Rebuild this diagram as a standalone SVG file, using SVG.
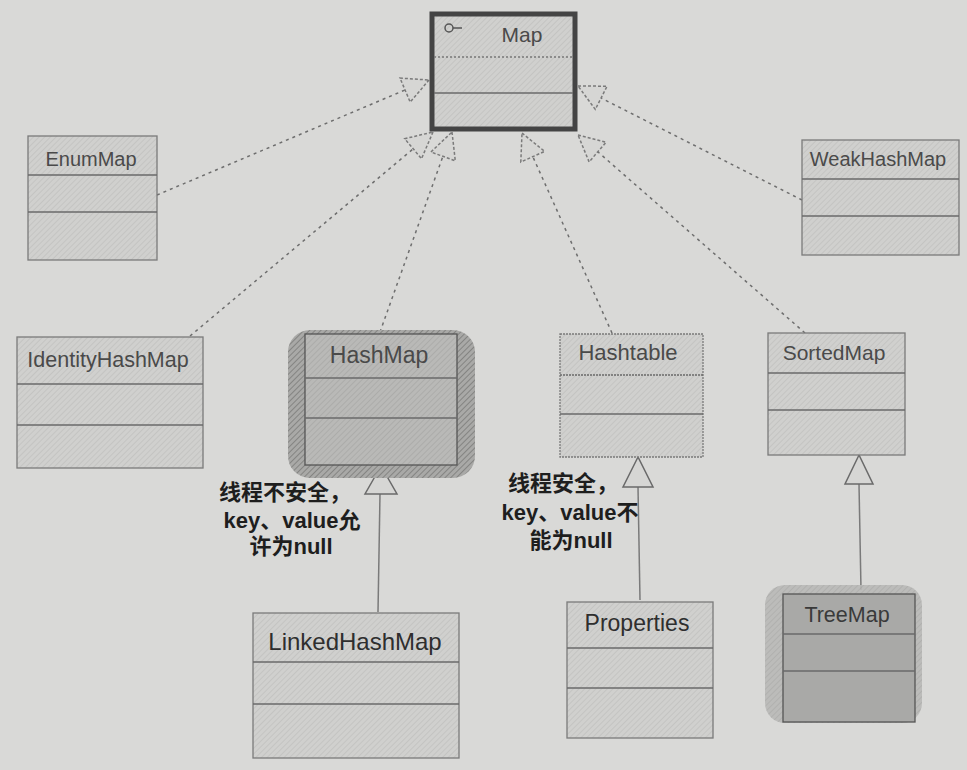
<svg xmlns="http://www.w3.org/2000/svg" width="967" height="770" viewBox="0 0 967 770">
<defs>
<pattern id="hatch" width="4" height="4" patternUnits="userSpaceOnUse" patternTransform="rotate(45)">
<rect width="4" height="4" fill="#d0d0ce"/>
<line x1="0" y1="0" x2="0" y2="4" stroke="#bdbdbb" stroke-width="1.2"/>
</pattern>
<pattern id="hatchDark" width="4" height="4" patternUnits="userSpaceOnUse" patternTransform="rotate(45)">
<rect width="4" height="4" fill="#a9a9a7"/>
<line x1="0" y1="0" x2="0" y2="4" stroke="#777775" stroke-width="1.5"/>
</pattern>
<pattern id="hatchMid" width="4" height="4" patternUnits="userSpaceOnUse" patternTransform="rotate(45)">
<rect width="4" height="4" fill="#b9b9b7"/>
<line x1="0" y1="0" x2="0" y2="4" stroke="#a3a3a1" stroke-width="1.2"/>
</pattern>
</defs>
<style>
.box{fill:url(#hatch);stroke:#7a7a7a;stroke-width:1.3}
.sep{stroke:#6a6a6a;stroke-width:1.3}
.name{font-family:"Liberation Sans",Arial,sans-serif;font-size:20px;fill:#4a4a4a;text-anchor:middle}
.note{font-family:"Liberation Sans","Noto Sans CJK SC",sans-serif;font-size:22px;font-weight:bold;fill:#1e1e1e;text-anchor:middle}
.dash{stroke:#6e6e6e;stroke-width:1.5;stroke-dasharray:3 4;fill:none}
.tri{fill:#d6d6d4;stroke:#7a7a7a;stroke-width:1.5;stroke-dasharray:3 2}
.solid{stroke:#7a7a7a;stroke-width:1.5;fill:none}
.trisolid{fill:#d6d6d4;stroke:#6a6a6a;stroke-width:1.5}
</style>
<rect width="967" height="770" fill="#d9d9d7"/>
<g id="connectors">
<line class="dash" x1="157" y1="195" x2="405" y2="90"/>
<polygon class="tri" points="429,80 410.2,102.1 400,78.1"/>
<line class="dash" x1="190" y1="336" x2="413" y2="149"/>
<polygon class="tri" points="433,132 421.5,158.7 404.7,138.7"/>
<line class="dash" x1="380" y1="332" x2="443" y2="156"/>
<polygon class="tri" points="452,132 455.3,160.8 430.9,152"/>
<line class="dash" x1="612" y1="333" x2="533" y2="157"/>
<polygon class="tri" points="522,133 544.6,151.4 520.8,162"/>
<line class="dash" x1="805" y1="333" x2="598" y2="152"/>
<polygon class="tri" points="578,135 606.1,142.3 589.1,161.9"/>
<line class="dash" x1="802" y1="200" x2="601" y2="98"/>
<polygon class="tri" points="578,86 607.1,86.2 595.3,109.4"/>
<line class="solid" x1="380" y1="494" x2="378" y2="612"/>
<polygon class="trisolid" points="381,466 365,494 397,494"/>
<line class="solid" x1="638" y1="487" x2="640" y2="600"/>
<polygon class="trisolid" points="638,457 623,487 653,487"/>
<line class="solid" x1="859" y1="484" x2="861" y2="590"/>
<polygon class="trisolid" points="859,455 845,484 873,484"/>
</g>
<g id="Map">
<rect x="432" y="14" width="143" height="115" fill="url(#hatch)" stroke="#444" stroke-width="5"/>
<line x1="434" y1="57" x2="573" y2="57" stroke="#777" stroke-width="1.3" stroke-dasharray="2 2"/>
<line class="sep" x1="434" y1="93" x2="573" y2="93"/>
<circle cx="449" cy="28" r="4" fill="none" stroke="#555" stroke-width="1.5"/>
<line x1="453" y1="28" x2="462" y2="28" stroke="#555" stroke-width="1.5"/>
<text class="name" x="522" y="42" style="font-size:21px">Map</text>
</g>
<g id="EnumMap">
<rect class="box" x="28" y="136" width="129" height="124"/>
<line class="sep" x1="28" y1="175" x2="157" y2="175"/>
<line class="sep" x1="28" y1="212" x2="157" y2="212"/>
<text class="name" x="91" y="166">EnumMap</text>
</g>
<g id="WeakHashMap">
<rect class="box" x="802" y="140" width="157" height="115"/>
<line class="sep" x1="802" y1="179" x2="959" y2="179"/>
<line class="sep" x1="802" y1="216" x2="959" y2="216"/>
<text class="name" x="878" y="166">WeakHashMap</text>
</g>
<g id="IdentityHashMap">
<rect class="box" x="17" y="337" width="186" height="131"/>
<line class="sep" x1="17" y1="384" x2="203" y2="384"/>
<line class="sep" x1="17" y1="425" x2="203" y2="425"/>
<text class="name" x="108" y="367" style="font-size:21.5px">IdentityHashMap</text>
</g>
<g id="HashMap">
<rect x="288" y="330" width="187" height="148" rx="22" fill="url(#hatchDark)"/>
<rect x="305" y="334" width="152" height="131" fill="url(#hatchMid)" stroke="#555" stroke-width="1.3"/>
<line class="sep" x1="305" y1="378" x2="457" y2="378"/>
<line class="sep" x1="305" y1="418" x2="457" y2="418"/>
<text class="name" x="379" y="363" style="font-size:23px">HashMap</text>
</g>
<g id="Hashtable">
<rect class="box" x="560" y="334" width="143" height="123" stroke-dasharray="2 1"/>
<line class="sep" x1="560" y1="375" x2="703" y2="375" stroke-dasharray="2 1"/>
<line class="sep" x1="560" y1="414" x2="703" y2="414"/>
<text class="name" x="628" y="360" style="font-size:22px">Hashtable</text>
</g>
<g id="SortedMap">
<rect class="box" x="768" y="333" width="137" height="122"/>
<line class="sep" x1="768" y1="373" x2="905" y2="373"/>
<line class="sep" x1="768" y1="410" x2="905" y2="410"/>
<text class="name" x="834" y="360" style="font-size:21px">SortedMap</text>
</g>
<g id="LinkedHashMap">
<rect class="box" x="253" y="613" width="206" height="145"/>
<line class="sep" x1="253" y1="662" x2="459" y2="662"/>
<line class="sep" x1="253" y1="704" x2="459" y2="704"/>
<text class="name" x="355" y="650" style="fill:#2e2e2e;font-size:24px">LinkedHashMap</text>
</g>
<g id="Properties">
<rect class="box" x="567" y="602" width="146" height="136"/>
<line class="sep" x1="567" y1="648" x2="713" y2="648"/>
<line class="sep" x1="567" y1="688" x2="713" y2="688"/>
<text class="name" x="637" y="631" style="fill:#2e2e2e;font-size:23px">Properties</text>
</g>
<g id="TreeMap">
<rect x="765" y="585" width="157" height="138" rx="20" fill="url(#hatchMid)" opacity="0.9"/>
<rect x="783" y="594" width="132" height="128" fill="#a9a9a7" stroke="#555" stroke-width="1.3"/>
<line class="sep" x1="783" y1="634" x2="915" y2="634"/>
<line class="sep" x1="783" y1="671" x2="915" y2="671"/>
<text class="name" x="847" y="622" style="fill:#3a3a3a;font-size:21.5px">TreeMap</text>
</g>
<g id="note-hashmap">
<text class="note" x="285" y="500">线程不安全，</text>
<text class="note" x="292" y="528">key、value允</text>
<text class="note" x="291" y="554">许为null</text>
</g>
<g id="note-hashtable">
<text class="note" x="563" y="491">线程安全，</text>
<text class="note" x="570" y="520">key、value不</text>
<text class="note" x="571" y="548">能为null</text>
</g>
</svg>
